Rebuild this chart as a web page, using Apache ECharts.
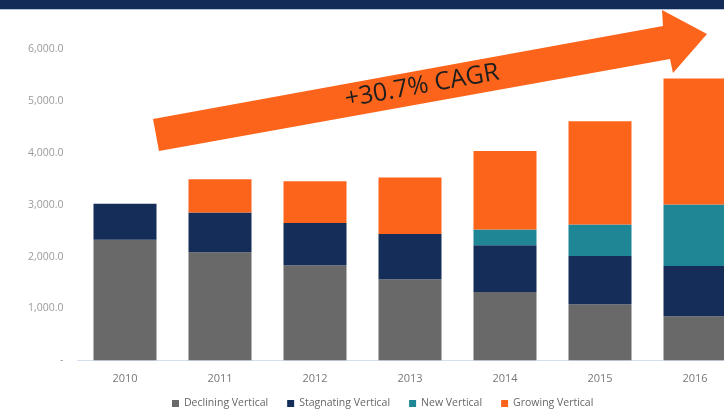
<!DOCTYPE html>
<html>
<head>
<meta charset="utf-8">
<script src="https://cdn.jsdelivr.net/npm/echarts@6/dist/echarts.min.js"></script>
<style>
  html, body { margin: 0; padding: 0; background: #ffffff; }
  #chart { width: 724px; height: 409px; }
</style>
</head>
<body>
<div id="chart"></div>
<script>
// Revenue by vertical, stacked per year
const years = ['2010', '2011', '2012', '2013', '2014', '2015', '2016'];
const decliningVertical = [2326, 2085, 1834, 1566, 1318, 1081, 849];
const stagnatingVertical = [694, 765, 816, 870, 902, 933, 971];
const newVertical = [null, null, null, null, 303, 606, 1186];
const growingVertical = [null, 644, 805, 1090, 1517, 1994, 2432];
const cagrLabel = '+30.7% CAGR';

const seriesDefs = [
  { name: 'Declining Vertical', data: decliningVertical, color: '#696969' },
  { name: 'Stagnating Vertical', data: stagnatingVertical, color: '#142d59' },
  { name: 'New Vertical', data: newVertical, color: '#1f8696' },
  { name: 'Growing Vertical', data: growingVertical, color: '#fd641b' }
];

const chart = echarts.init(document.getElementById('chart'));
const font = '"Open Sans", "Noto Sans", sans-serif';

chart.setOption({
  animation: false,
  textStyle: { fontFamily: font },
  // plot area runs past the right edge so the last column is partly cut off
  grid: {
    left: 77.5, width: 665, top: 49.3, bottom: 48.7,
    containLabel: false,
    outerBoundsMode: 'none'
  },
  legend: {
    top: 398,
    left: 172,
    padding: 0,
    icon: 'rect',
    itemWidth: 7,
    itemHeight: 7,
    itemGap: 19,
    textStyle: { color: '#666666', fontSize: 10.5, fontFamily: font },
    data: seriesDefs.map(s => s.name)
  },
  xAxis: {
    type: 'category',
    data: years,
    axisLine: { lineStyle: { color: '#d6def0', width: 1 } },
    axisTick: { show: false },
    axisLabel: { color: '#777777', fontSize: 11, margin: 13, fontFamily: font }
  },
  yAxis: {
    type: 'value',
    min: 0,
    max: 6000,
    interval: 1000,
    splitLine: { show: false },
    axisLine: { show: false },
    axisTick: { show: false },
    axisLabel: {
      color: '#9a9a9a',
      fontSize: 10.5,
      margin: 14,
      fontFamily: font,
      formatter: v => v === 0 ? '-' : v.toLocaleString('en-US', { minimumFractionDigits: 1, maximumFractionDigits: 1 })
    }
  },
  series: seriesDefs.map(s => ({
    name: s.name,
    type: 'bar',
    stack: 'total',
    barWidth: 63,
    itemStyle: { color: s.color },
    data: s.data
  })),
  graphic: [
    // header band
    { type: 'rect', shape: { x: 0, y: 0, width: 724, height: 9 }, style: { fill: '#132c57' }, z: 10 },
    { type: 'line', shape: { x1: 0, y1: 9.5, x2: 724, y2: 9.5 }, style: { stroke: '#b5c6d8', lineWidth: 1 }, z: 10 },
    // growth arrow
    {
      type: 'polygon',
      z: 20,
      shape: {
        points: [[153, 119], [159, 151], [670, 59], [673, 73], [707, 34], [662, 10], [663, 26]]
      },
      style: { fill: '#fd641b' }
    },
    {
      type: 'text',
      z: 21,
      x: 422,
      y: 86,
      rotation: 10.2 * Math.PI / 180,
      style: {
        x: 0,
        y: 0,
        text: cagrLabel,
        align: 'center',
        verticalAlign: 'middle',
        fill: '#1e1e1e',
        font: '25px ' + font
      }
    }
  ]
});
</script>
</body>
</html>
